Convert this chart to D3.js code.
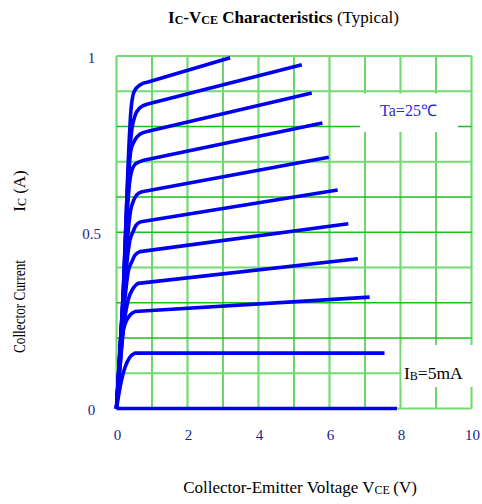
<!DOCTYPE html>
<html>
<head>
<meta charset="utf-8">
<script src="https://cdn.jsdelivr.net/npm/d3@7"></script>
<style>
  body { margin: 0; background: #fff; }
  svg { display: block; }
  text { font-family: "Liberation Serif", "Times New Roman", serif; }
</style>
</head>
<body>
<div id="chart"></div>
<script>
// tick values
const vceTicks = [0, 2, 4, 6, 8, 10];
const icTicks = [0, 0.5, 1];
const vceGrid = [0, 1, 2, 3, 4, 5, 6, 7, 8, 9, 10];
const icGrid = [0, 0.1, 0.2, 0.3, 0.4, 0.5, 0.6, 0.7, 0.8, 0.9, 1];

// curves, [Vce (V), Ic (A)], lowest first
// the last point is the end of the straight part after the knee
const curve0 = [[0, 0], [7.9, 0]];
const curve1 = [[0, 0], [0.1, 0.06], [0.24, 0.117], [0.38, 0.146], [0.52, 0.157], [7.55, 0.157]];
const curve2 = [[0, 0], [0.1, 0.12], [0.19, 0.222], [0.38, 0.265], [0.52, 0.275], [7.13, 0.316]];
const curve3 = [[0, 0], [0.1, 0.12], [0.2, 0.23], [0.33, 0.308], [0.47, 0.341], [0.61, 0.355], [6.8, 0.425]];
const curve4 = [[0, 0], [0.1, 0.14], [0.2, 0.27], [0.33, 0.388], [0.43, 0.416], [0.52, 0.435], [0.66, 0.445], [6.53, 0.524]];
const curve5 = [[0, 0], [0.1, 0.15], [0.2, 0.3], [0.3, 0.42], [0.38, 0.478], [0.46, 0.5], [0.55, 0.52], [0.69, 0.53], [6.23, 0.62]];
const curve6 = [[0, 0], [0.1, 0.16], [0.2, 0.32], [0.3, 0.47], [0.4, 0.563], [0.47, 0.587], [0.57, 0.606], [0.72, 0.615], [5.98, 0.713]];
const curve7 = [[0, 0], [0.1, 0.16], [0.2, 0.33], [0.3, 0.55], [0.38, 0.65], [0.5, 0.69], [0.65, 0.7], [0.8, 0.705], [5.8, 0.81]];
const curve8 = [[0, 0], [0.1, 0.17], [0.19, 0.32], [0.3, 0.58], [0.4, 0.73], [0.52, 0.762], [0.66, 0.778], [0.83, 0.785], [5.5, 0.895]];
const curve9 = [[0, 0], [0.1, 0.17], [0.19, 0.33], [0.32, 0.65], [0.43, 0.79], [0.52, 0.83], [0.66, 0.853], [0.88, 0.864], [5.22, 0.975]];
const curve10 = [[0, 0], [0.1, 0.17], [0.19, 0.33], [0.33, 0.7], [0.41, 0.85], [0.5, 0.9], [0.66, 0.918], [0.89, 0.926], [3.2, 0.995]];
const curves = [curve0, curve1, curve2, curve3, curve4, curve5, curve6, curve7, curve8, curve9, curve10];

const width = 482, height = 504;
const margin = { top: 56, right: 10.5, bottom: 95.5, left: 116.5 };
const innerWidth = width - margin.left - margin.right;
const innerHeight = height - margin.top - margin.bottom;

const svg = d3.select("#chart")
  .append("svg")
  .attr("width", width)
  .attr("height", height);

const g = svg.append("g")
  .attr("transform", `translate(${margin.left},${margin.top})`);

const x = d3.scaleLinear().domain([0, 10]).range([0, innerWidth]);
const y = d3.scaleLinear().domain([0, 1]).range([innerHeight, 0]);

const lightGreen = "#72dc72", darkGreen = "#1cbf1c";
// some grid lines come out lighter and wider in the original
const lightRows = new Set([0, 0.1, 0.4, 0.7, 0.9, 1]);

// grid
g.selectAll("line.vgrid")
  .data(vceGrid)
  .enter().append("line")
  .attr("class", "vgrid")
  .attr("x1", d => x(d)).attr("x2", d => x(d))
  .attr("y1", 0).attr("y2", innerHeight)
  .attr("stroke", d => d % 2 === 0 ? lightGreen : darkGreen)
  .attr("stroke-width", d => d % 2 === 0 ? 2.2 : 1.3);

g.selectAll("line.hgrid")
  .data(icGrid)
  .enter().append("line")
  .attr("class", "hgrid")
  .attr("x1", 0).attr("x2", innerWidth)
  .attr("y1", d => y(d)).attr("y2", d => y(d))
  .attr("stroke", d => lightRows.has(d) ? lightGreen : darkGreen)
  .attr("stroke-width", d => lightRows.has(d) ? 2.2 : 1.3);

// white label boxes over the grid
svg.append("rect")
  .attr("x", 360).attr("y", 93.5)
  .attr("width", 98).attr("height", 38.5)
  .attr("fill", "#fff");
svg.append("rect")
  .attr("x", 401.5).attr("y", 345)
  .attr("width", 75).attr("height", 42)
  .attr("fill", "#fff");

// curves: smooth rise up to the knee, then a straight run
const rise = d3.line()
  .x(d => x(d[0]))
  .y(d => y(d[1]))
  .curve(d3.curveMonotoneX);

function curvePath(pts) {
  const last = pts[pts.length - 1];
  return rise(pts.slice(0, -1)) + `L${x(last[0])},${y(last[1])}`;
}

g.selectAll("path.curve")
  .data(curves)
  .enter().append("path")
  .attr("class", "curve")
  .attr("fill", "none")
  .attr("stroke", "#0000f0")
  .attr("stroke-width", 3.6)
  .attr("stroke-linejoin", "round")
  .attr("d", curvePath);

// tick labels
const tickColor = "#1d1d8a";
g.selectAll("text.xtick")
  .data(vceTicks)
  .enter().append("text")
  .attr("class", "xtick")
  .attr("x", d => x(d) + 1)
  .attr("y", innerHeight + 31)
  .attr("text-anchor", "middle")
  .attr("font-size", 15)
  .attr("fill", tickColor)
  .text(d => d);

g.selectAll("text.ytick")
  .data(icTicks)
  .enter().append("text")
  .attr("class", "ytick")
  .attr("x", -25)
  .attr("y", d => y(d) + 6.5)
  .attr("text-anchor", "middle")
  .attr("font-size", 15)
  .attr("fill", tickColor)
  .text(d => d);

// title
const title = svg.append("text")
  .attr("x", 168)
  .attr("y", 23)
  .attr("font-size", 17)
  .attr("fill", "#000");
title.append("tspan").attr("font-weight", "bold").text("I");
title.append("tspan").attr("font-weight", "bold").attr("font-size", 12).attr("dy", 1).text("C");
title.append("tspan").attr("font-weight", "bold").attr("dy", -1).text("-V");
title.append("tspan").attr("font-weight", "bold").attr("font-size", 12).attr("dy", 1).text("CE");
title.append("tspan").attr("font-weight", "bold").attr("dy", -1).text(" Characteristics");
title.append("tspan").text(" (Typical)");

// x axis title
const xTitle = svg.append("text")
  .attr("x", 300)
  .attr("y", 493)
  .attr("text-anchor", "middle")
  .attr("font-size", 17)
  .attr("fill", "#000");
xTitle.append("tspan").text("Collector-Emitter Voltage V");
xTitle.append("tspan").attr("font-size", 12).attr("dy", 1).text("CE");
xTitle.append("tspan").attr("dy", -1).text("\u2009(V)");

// y axis title, the first part squeezed along its length like the original
svg.append("text")
  .attr("transform", "translate(25,306.5) rotate(-90) scale(0.78,1)")
  .attr("text-anchor", "middle")
  .attr("font-size", 17)
  .attr("fill", "#000")
  .text("Collector Current");

const yTitle2 = svg.append("text")
  .attr("transform", "translate(25,191) rotate(-90)")
  .attr("text-anchor", "middle")
  .attr("font-size", 17)
  .attr("fill", "#000");
yTitle2.append("tspan").text("I");
yTitle2.append("tspan").attr("font-size", 12).attr("dy", 1).text("C");
yTitle2.append("tspan").attr("dy", -1).text(" (A)");

// annotations
svg.append("text")
  .attr("x", 408.5)
  .attr("y", 116)
  .attr("text-anchor", "middle")
  .attr("font-size", 16)
  .attr("fill", "#2a2ae0")
  .text("Ta=25\u2103");

const ib = svg.append("text")
  .attr("x", 404)
  .attr("y", 378.5)
  .attr("font-size", 17.5)
  .attr("fill", "#000");
ib.append("tspan").text("I");
ib.append("tspan").attr("font-size", 12).attr("dy", 1).text("B");
ib.append("tspan").attr("dy", -1).text("=5mA");
</script>
</body>
</html>
